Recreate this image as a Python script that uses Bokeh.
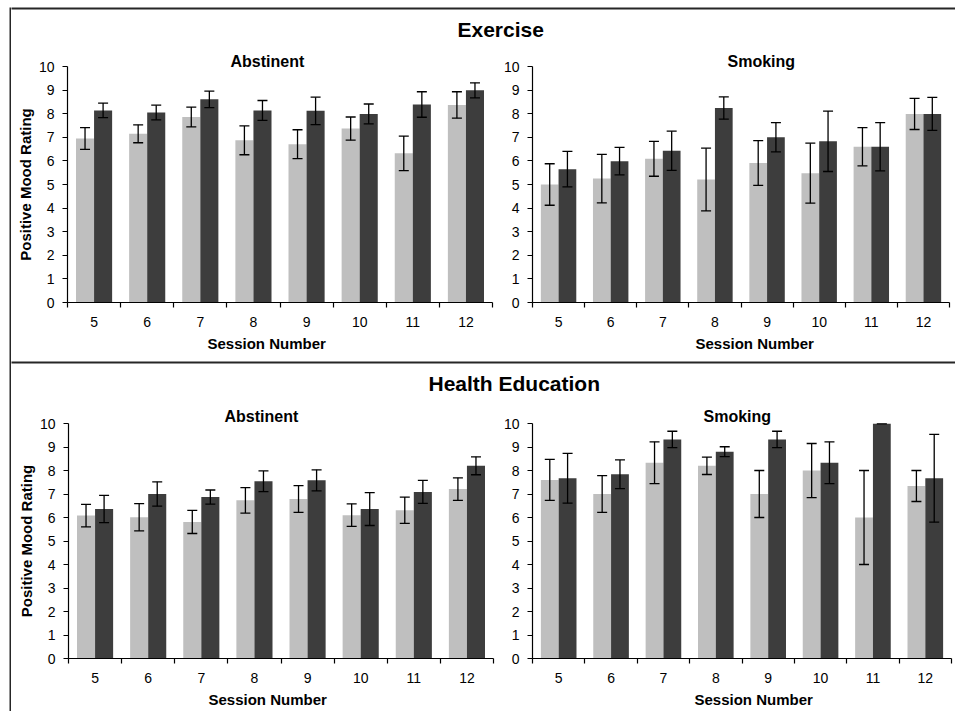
from bokeh.plotting import figure
from bokeh.models import ColumnDataSource, Range1d, FixedTicker, Whisker, TeeHead, Title, Spacer
from bokeh.layouts import row, column
from bokeh.embed import file_html
from bokeh.resources import INLINE

# ---------------- data ----------------
sessions = [5, 6, 7, 8, 9, 10, 11, 12]
y_ticks = [0, 1, 2, 3, 4, 5, 6, 7, 8, 9, 10]

section_titles = ["Exercise", "Health Education"]
panel_titles = ["Abstinent", "Smoking"]
x_title = "Session Number"
y_title = "Positive Mood Rating"

# Exercise / Abstinent
ex_abs_light = [6.95, 7.15, 7.86, 6.87, 6.71, 7.37, 6.32, 8.37]
ex_abs_light_err = [0.46, 0.38, 0.42, 0.61, 0.61, 0.49, 0.73, 0.56]
ex_abs_dark = [8.14, 8.05, 8.61, 8.14, 8.12, 7.99, 8.39, 8.99]
ex_abs_dark_err = [0.31, 0.31, 0.35, 0.42, 0.58, 0.42, 0.54, 0.32]

# Exercise / Smoking
ex_smk_light = [5.00, 5.25, 6.09, 5.21, 5.91, 5.48, 6.60, 7.99]
ex_smk_light_err = [0.88, 1.03, 0.74, 1.33, 0.95, 1.27, 0.81, 0.66]
ex_smk_dark = [5.65, 5.99, 6.43, 8.24, 7.00, 6.83, 6.60, 7.99]
ex_smk_dark_err = [0.75, 0.58, 0.83, 0.47, 0.62, 1.28, 1.02, 0.70]

# Health Education / Abstinent
he_abs_light = [6.08, 6.01, 5.81, 6.73, 6.79, 6.10, 6.31, 7.21]
he_abs_light_err = [0.48, 0.58, 0.49, 0.54, 0.57, 0.48, 0.56, 0.48]
he_abs_dark = [6.36, 7.00, 6.87, 7.54, 7.58, 6.36, 7.09, 8.20]
he_abs_dark_err = [0.58, 0.52, 0.30, 0.44, 0.45, 0.70, 0.49, 0.38]

# Health Education / Smoking
he_smk_light = [7.60, 7.00, 8.33, 8.20, 7.00, 8.00, 6.00, 7.34]
he_smk_light_err = [0.87, 0.78, 0.89, 0.37, 1.00, 1.15, 2.00, 0.66]
he_smk_dark = [7.67, 7.84, 9.32, 8.80, 9.32, 8.33, 10.00, 7.67]
he_smk_dark_err = [1.06, 0.61, 0.35, 0.21, 0.35, 0.89, 0.00, 1.87]

# ---------------- style ----------------
FONT = "Liberation Sans"
LIGHT = "#bfbfbf"
DARK = "#3d3d3d"
LINE = "#262626"
BAR_W = 0.34


def panel(light, light_err, dark, dark_err, subtitle, sub_off, sub_standoff,
          xlab_off, width, height, bl, br, bt, bb, ylabel):
    p = figure(width=width, height=height,
               x_range=Range1d(4.5, 12.5), y_range=Range1d(0, 10),
               output_backend="svg", toolbar_location=None,
               min_border_left=bl, min_border_right=br,
               min_border_top=bt, min_border_bottom=bb,
               title=subtitle)
    p.grid.visible = False
    p.outline_line_color = None
    p.background_fill_color = "white"
    p.border_fill_color = "white"

    src = ColumnDataSource(dict(
        x=sessions,
        xl=[s - BAR_W / 2 for s in sessions],
        xd=[s + BAR_W / 2 for s in sessions],
        light=light, dark=dark,
        l_up=[m + e for m, e in zip(light, light_err)],
        l_lo=[m - e for m, e in zip(light, light_err)],
        d_up=[m + e for m, e in zip(dark, dark_err)],
        d_lo=[m - e for m, e in zip(dark, dark_err)],
    ))
    p.vbar(x="xl", top="light", bottom=0, width=BAR_W, source=src,
           fill_color=LIGHT, line_color=None)
    p.vbar(x="xd", top="dark", bottom=0, width=BAR_W, source=src,
           fill_color=DARK, line_color=None)
    for base, up, lo in (("xl", "l_up", "l_lo"), ("xd", "d_up", "d_lo")):
        w = Whisker(base=base, upper=up, lower=lo, source=src, level="overlay",
                    line_color="black", line_width=1.3,
                    upper_head=TeeHead(size=10, line_color="black", line_width=1.3),
                    lower_head=TeeHead(size=10, line_color="black", line_width=1.3))
        p.add_layout(w)

    # panel subtitle
    p.title.align = "left"
    p.title.offset = sub_off
    p.title.standoff = sub_standoff
    p.title.text_font = FONT
    p.title.text_font_size = "16px"
    p.title.text_font_style = "bold"
    p.title.text_color = "black"

    # x axis
    xa = p.xaxis[0]
    xa.ticker = FixedTicker(ticks=sessions,
                            minor_ticks=[s - 0.5 for s in sessions] + [sessions[-1] + 0.5])
    xa.major_tick_in = 0
    xa.major_tick_out = 0
    xa.minor_tick_in = 0
    xa.minor_tick_out = 5
    xa.minor_tick_line_color = "black"
    xa.minor_tick_line_width = 1.2
    xa.axis_line_color = "black"
    xa.axis_line_width = 1.2
    xa.major_label_standoff = 9
    xa.major_label_text_font = FONT
    xa.major_label_text_font_size = "14px"
    xa.major_label_text_color = "black"

    # y axis
    ya = p.yaxis[0]
    ya.ticker = FixedTicker(ticks=y_ticks)
    ya.major_tick_in = 0
    ya.major_tick_out = 5
    ya.minor_tick_in = 0
    ya.minor_tick_out = 0
    ya.major_tick_line_color = "black"
    ya.major_tick_line_width = 1.2
    ya.axis_line_color = "black"
    ya.axis_line_width = 1.2
    ya.major_label_standoff = 8
    ya.major_label_text_font = FONT
    ya.major_label_text_font_size = "14px"
    ya.major_label_text_color = "black"
    if ylabel:
        ya.axis_label = ylabel
        ya.axis_label_standoff = 2
        ya.axis_label_text_font = FONT
        ya.axis_label_text_font_size = "15px"
        ya.axis_label_text_font_style = "bold"
        ya.axis_label_text_color = "black"

    xt = Title(text=x_title, align="left", offset=xlab_off, standoff=7,
               text_font=FONT, text_font_size="15px", text_font_style="bold",
               text_color="black")
    p.add_layout(xt, "below")
    return p


def rule_with_title(text, width, height, off, standoff):
    # a 2px dark rule (the frame) with the section title placed just below it
    h = figure(width=width, height=height,
               output_backend="svg", toolbar_location=None,
               x_axis_location=None, y_axis_location=None,
               min_border_left=0, min_border_right=0, min_border_top=0,
               min_border_bottom=height - 2,
               background_fill_color=LINE, border_fill_color="white",
               outline_line_color=None)
    h.grid.visible = False
    t = Title(text=text, align="left", offset=off, standoff=standoff,
              text_font=FONT, text_font_size="21px", text_font_style="bold",
              text_color="black")
    h.add_layout(t, "below")
    return h


COL_W = 944
TOTAL_H = 711

top_pad = Spacer(width=COL_W, height=7)
h1 = rule_with_title(section_titles[0], COL_W, 43, 446, 13)
p1 = panel(ex_abs_light, ex_abs_light_err, ex_abs_dark, ex_abs_dark_err,
           panel_titles[0], 163, -7, 140, 489, 311, 56, 8, 16, 59, y_title)
p2 = panel(ex_smk_light, ex_smk_light_err, ex_smk_dark, ex_smk_dark_err,
           panel_titles[1], 195, -7, 163, 455, 311, 25, 6, 16, 59, None)
h2 = rule_with_title(section_titles[1], COL_W, 42, 417, 13)
p3 = panel(he_abs_light, he_abs_light_err, he_abs_dark, he_abs_dark_err,
           panel_titles[0], 156, -2, 140, 489, 308, 57, 7, 20, 52, y_title)
p4 = panel(he_smk_light, he_smk_light_err, he_smk_dark, he_smk_dark_err,
           panel_titles[1], 171, -2, 162, 455, 308, 27, 4, 20, 52, None)

# left rule of the frame box (white margin, then a 2px dark strip)
bar = figure(width=11, height=TOTAL_H, output_backend="svg", toolbar_location=None,
             x_axis_location=None, y_axis_location=None,
             min_border_left=9, min_border_top=7, min_border_right=0, min_border_bottom=0,
             background_fill_color=LINE, border_fill_color="white",
             outline_line_color=None)
bar.grid.visible = False

layout = row(bar, column(top_pad, h1, row(p1, p2), h2, row(p3, p4)))

open("out.html", "w").write(file_html(layout, INLINE))
